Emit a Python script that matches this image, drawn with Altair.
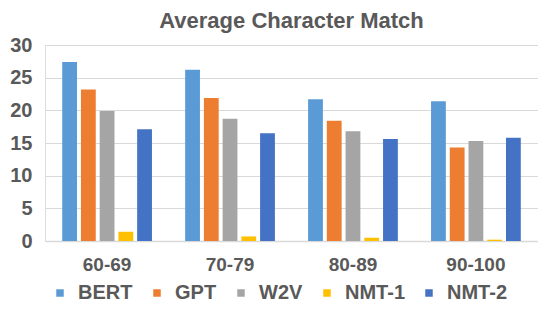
import altair as alt
import pandas as pd

groups = ["60-69", "70-79", "80-89", "90-100"]
series = ["BERT", "GPT", "W2V", "NMT-1", "NMT-2"]
colors = ["#5B9BD5", "#ED7D31", "#A5A5A5", "#FFC000", "#4472C4"]
bert = [27.4, 26.2, 21.7, 21.4]
gpt = [23.2, 21.9, 18.4, 14.3]
w2v = [19.9, 18.7, 16.8, 15.3]
nmt1 = [1.4, 0.7, 0.5, 0.2]
nmt2 = [17.1, 16.5, 15.6, 15.8]

vals = [bert, gpt, w2v, nmt1, nmt2]
rows = []
for s, v in zip(series, vals):
    for g, x in zip(groups, v):
        rows.append({"group": g, "model": s, "value": x})
df = pd.DataFrame(rows)

chart = alt.Chart(df).mark_bar().encode(
    x=alt.X("group:N", sort=groups, title=None,
            scale=alt.Scale(paddingInner=0.27, paddingOuter=0.14),
            axis=alt.Axis(labelAngle=0, labelFontSize=19, labelFontWeight="bold",
                          labelColor="#595959", ticks=False, domainColor="#D9D9D9",
                          domainWidth=1.5, labelPadding=14)),
    xOffset=alt.XOffset("model:N", sort=series,
                        scale=alt.Scale(paddingInner=0.21, paddingOuter=0)),
    y=alt.Y("value:Q", title=None,
            scale=alt.Scale(domain=[0, 30]),
            axis=alt.Axis(values=[0, 5, 10, 15, 20, 25, 30], labelFontSize=20,
                          labelFontWeight="bold", labelColor="#595959", ticks=False,
                          domain=False, gridColor="#D9D9D9", labelPadding=13)),
    color=alt.Color("model:N", sort=series,
                    scale=alt.Scale(domain=series, range=colors),
                    legend=alt.Legend(orient="none", legendX=5, legendY=238,
                                      direction="horizontal", title=None,
                                      symbolType="square", symbolSize=56,
                                      labelFontSize=20, labelFontWeight="bold",
                                      labelColor="#595959", columnPadding=14,
                                      labelOffset=8, symbolStrokeWidth=0)),
).properties(
    width=493, height=196,
    autosize=alt.AutoSizeParams(type="none"),
    padding={"left": 37, "top": 37, "right": 0, "bottom": 65},
    title=alt.TitleParams("Average Character Match", fontSize=22, fontWeight="bold",
                          color="#595959", anchor="middle", offset=2),
).configure_view(stroke=None).configure(font="Liberation Sans")

chart.save("out.html", embed_options={"renderer": "svg", "actions": False})
